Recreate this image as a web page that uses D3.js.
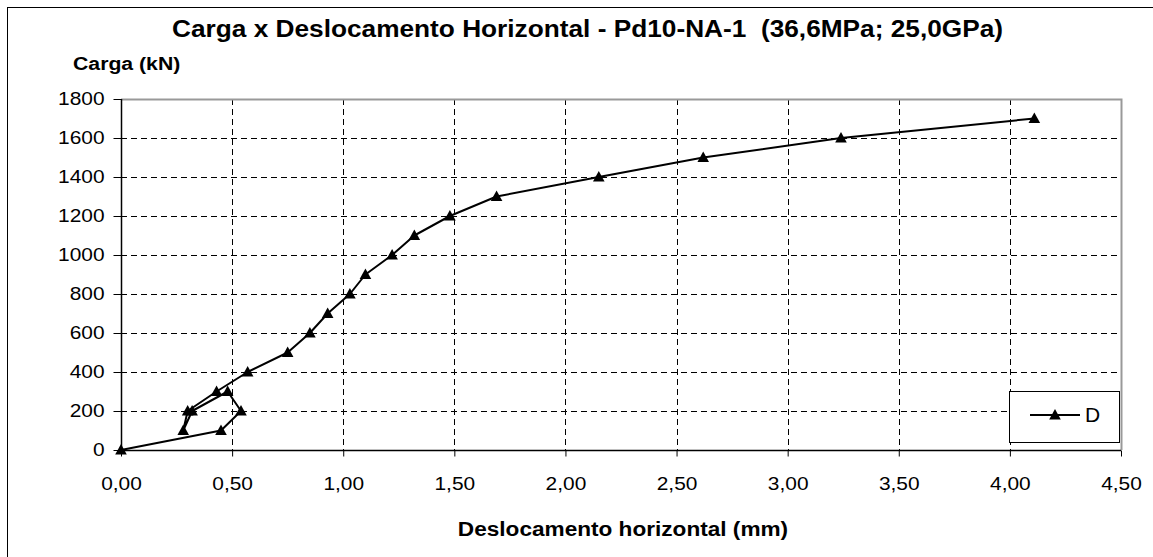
<!DOCTYPE html>
<html>
<head>
<meta charset="utf-8">
<script src="https://cdn.jsdelivr.net/npm/d3@7"></script>
<style>
  html, body { margin: 0; padding: 0; background: #fff; }
  svg { display: block; font-family: "Liberation Sans", Arial, sans-serif; }
  text { white-space: pre; }
</style>
</head>
<body>
<svg id="chart" width="1153" height="557"></svg>
<script>
// ---- data ----
const seriesName = "D";
const dispMm = [0, 0.45, 0.54, 0.48, 0.32, 0.28, 0.30, 0.43, 0.57, 0.75, 0.85, 0.93, 1.03, 1.10, 1.22, 1.32, 1.48, 1.69, 2.15, 2.62, 3.24, 4.11];
const loadKN = [0, 100, 200, 300, 200, 100, 200, 300, 400, 500, 600, 700, 800, 900, 1000, 1100, 1200, 1300, 1400, 1500, 1600, 1700];
const xTickValues = [0, 0.5, 1, 1.5, 2, 2.5, 3, 3.5, 4, 4.5];
const yTickValues = [0, 200, 400, 600, 800, 1000, 1200, 1400, 1600, 1800];
const titleText = "Carga x Deslocamento Horizontal - Pd10-NA-1  (36,6MPa; 25,0GPa)";
const yAxisTitle = "Carga (kN)";
const xAxisTitle = "Deslocamento horizontal (mm)";

const points = dispMm.map((d, i) => ({ x: d, y: loadKN[i] }));

const svg = d3.select("#chart");
const STRETCH = 1.13;
function stretch(sel, f) {
  sel.each(function () {
    const w = this.getComputedTextLength();
    d3.select(this).attr("textLength", w * (f || STRETCH)).attr("lengthAdjust", "spacingAndGlyphs");
  });
}

// outer frame
svg.append("rect").attr("x", 7.5).attr("y", 7.5).attr("width", 1160).attr("height", 570)
  .attr("fill", "#fff").attr("stroke", "#000").attr("stroke-width", 1);

const x = d3.scaleLinear().domain([0, 4.5]).range([121, 1121]);
const y = d3.scaleLinear().domain([0, 1800]).range([450, 99]);

// gridlines
const grid = svg.append("g").attr("stroke", "#000").attr("stroke-width", 1).attr("stroke-dasharray", "6,4");
grid.selectAll("line.h").data(yTickValues.filter(v => v > 0 && v < 1800)).join("line")
  .attr("x1", x(0)).attr("x2", x(4.5))
  .attr("y1", d => Math.round(y(d)) + 0.5).attr("y2", d => Math.round(y(d)) + 0.5);
grid.selectAll("line.v").data(xTickValues.filter(v => v > 0 && v < 4.5)).join("line")
  .attr("y1", y(1800)).attr("y2", y(0))
  .attr("x1", d => Math.round(x(d)) + 0.5).attr("x2", d => Math.round(x(d)) + 0.5);

// plot border (top and right grey)
svg.append("path")
  .attr("d", `M${x(0)},${Math.round(y(1800)) + 0.5}H${Math.round(x(4.5)) + 0.5}V${y(0)}`)
  .attr("fill", "none").attr("stroke", "#999").attr("stroke-width", 2);

const fmt = d => d3.format(".2f")(d).replace(".", ",");

// axes
const xAxis = svg.append("g").attr("transform", `translate(0,${Math.round(y(0)) + 0.5})`)
  .call(d3.axisBottom(x).tickValues(xTickValues).tickFormat(fmt).tickSize(6).tickPadding(20));
const yAxis = svg.append("g").attr("transform", `translate(${Math.round(x(0)) + 0.5},0)`)
  .call(d3.axisLeft(y).tickValues(yTickValues).tickFormat(d3.format("d")).tickSize(8).tickPadding(9));
[xAxis, yAxis].forEach(a => {
  a.select(".domain").attr("stroke", "#000").attr("stroke-width", 1.5);
  a.selectAll(".tick line").attr("stroke", "#000");
  a.selectAll("text").attr("font-size", 18.5).attr("fill", "#000")
    .attr("font-family", "'Liberation Sans', Arial, sans-serif");
});
xAxis.select(".domain").attr("d", `M${x(0)},0H${x(4.5)}`);
yAxis.select(".domain").attr("d", `M0,${y(1800)}V${y(0)}`);
stretch(xAxis.selectAll("text"));
stretch(yAxis.selectAll("text"));

// series line
const line = d3.line().x(d => x(d.x)).y(d => y(d.y));
svg.append("path").datum(points).attr("d", line)
  .attr("fill", "none").attr("stroke", "#000").attr("stroke-width", 2).attr("stroke-linejoin", "round");

const tri = "M0,-6L5.8,4.5L-5.8,4.5Z";
svg.append("g").selectAll("path").data(points).join("path")
  .attr("d", tri).attr("transform", d => `translate(${x(d.x)},${y(d.y)})`)
  .attr("fill", "#000");

// titles
const t = svg.append("text").attr("x", 587.5).attr("y", 37).attr("text-anchor", "middle")
  .attr("font-size", 23.5).attr("font-weight", "bold").text(titleText);
const tw = t.node().getComputedTextLength();
t.attr("textLength", 831).attr("lengthAdjust", "spacingAndGlyphs");
const yt = svg.append("text").attr("x", 73).attr("y", 70)
  .attr("font-size", 18.8).attr("font-weight", "bold").text(yAxisTitle);
stretch(yt);
const xt = svg.append("text").attr("x", (x(0) + x(4.5)) / 2 + 2).attr("y", 536).attr("text-anchor", "middle")
  .attr("font-size", 20).attr("font-weight", "bold").text(xAxisTitle);
stretch(xt);

// legend
const lg = svg.append("g");
lg.append("rect").attr("x", 1009.5).attr("y", 391.5).attr("width", 110).attr("height", 51)
  .attr("fill", "#fff").attr("stroke", "#000").attr("stroke-width", 1);
lg.append("line").attr("x1", 1030).attr("x2", 1080).attr("y1", 415).attr("y2", 415)
  .attr("stroke", "#000").attr("stroke-width", 2);
lg.append("path").attr("d", tri).attr("transform", "translate(1055,415)").attr("fill", "#000");
lg.append("text").attr("x", 1085).attr("y", 422).attr("font-size", 21).text(seriesName);
</script>
</body>
</html>
